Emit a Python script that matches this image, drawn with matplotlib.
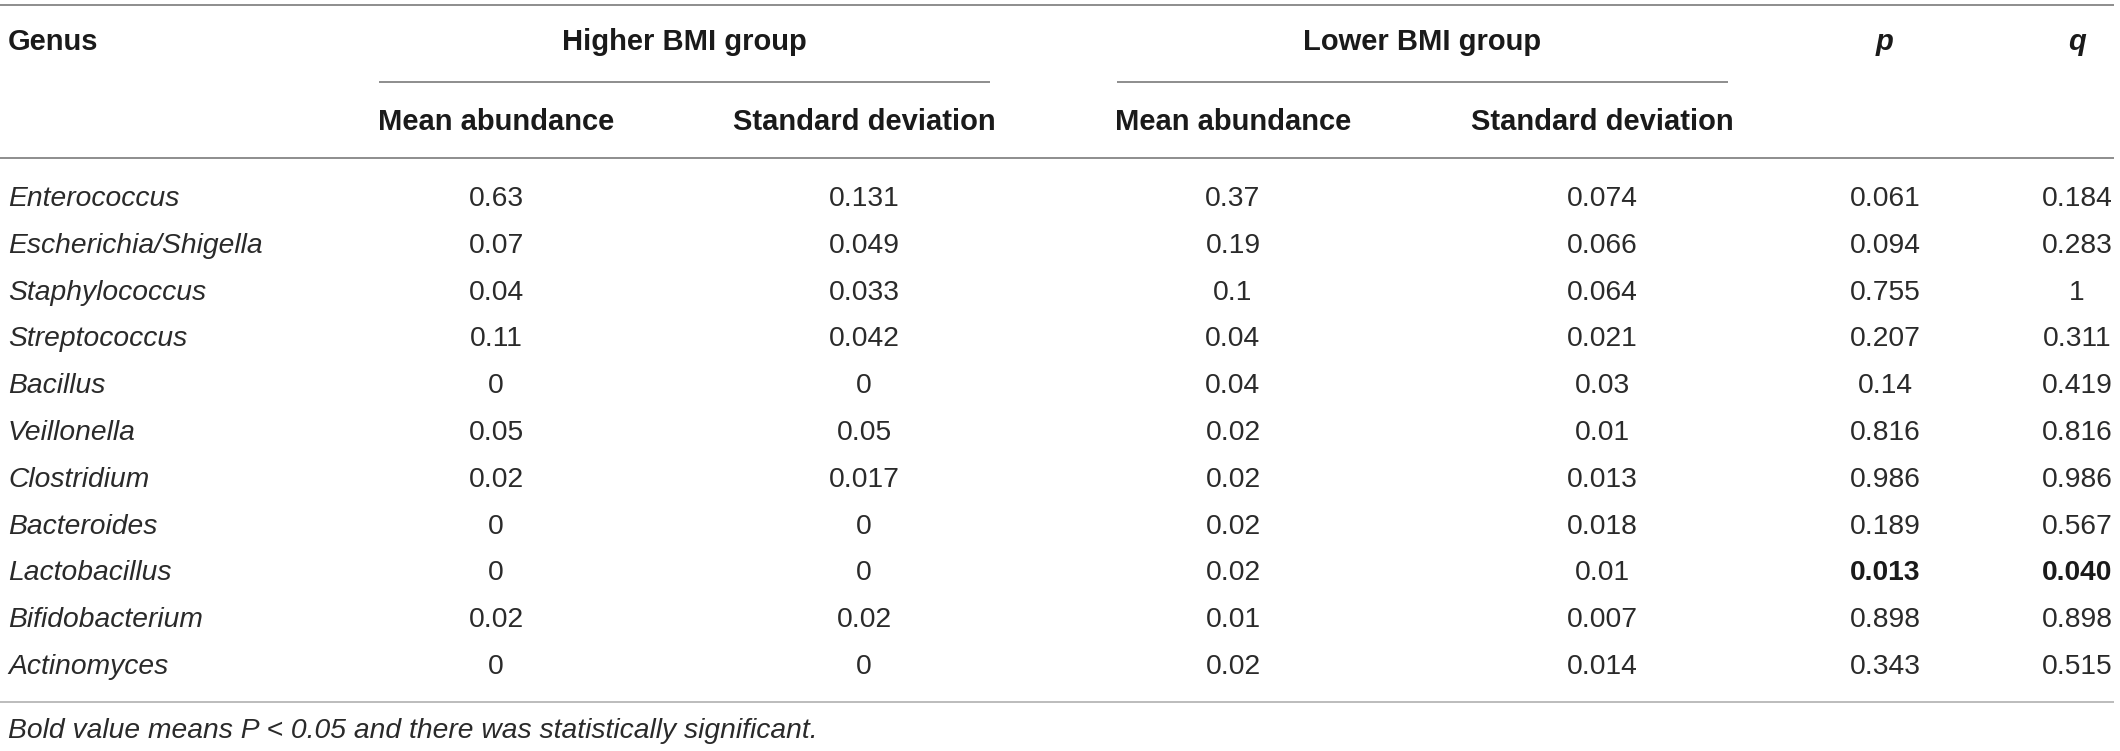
import matplotlib
matplotlib.use("Agg")
import matplotlib.pyplot as plt
from matplotlib.lines import Line2D

# table content
genus = ["Enterococcus", "Escherichia/Shigella", "Staphylococcus", "Streptococcus",
         "Bacillus", "Veillonella", "Clostridium", "Bacteroides", "Lactobacillus",
         "Bifidobacterium", "Actinomyces"]
higher_mean = ["0.63", "0.07", "0.04", "0.11", "0", "0.05", "0.02", "0", "0", "0.02", "0"]
higher_sd = ["0.131", "0.049", "0.033", "0.042", "0", "0.05", "0.017", "0", "0", "0.02", "0"]
lower_mean = ["0.37", "0.19", "0.1", "0.04", "0.04", "0.02", "0.02", "0.02", "0.02", "0.01", "0.02"]
lower_sd = ["0.074", "0.066", "0.064", "0.021", "0.03", "0.01", "0.013", "0.018", "0.01", "0.007", "0.014"]
p_vals = ["0.061", "0.094", "0.755", "0.207", "0.14", "0.816", "0.986", "0.189", "0.013", "0.898", "0.343"]
q_vals = ["0.184", "0.283", "1", "0.311", "0.419", "0.816", "0.986", "0.567", "0.040", "0.898", "0.515"]

group_labels = ["Higher BMI group", "Lower BMI group"]
sub_labels = ["Mean abundance", "Standard deviation"]
footnote = "Bold value means P < 0.05 and there was statistically significant."

W, H = 2120, 751
fig = plt.figure(figsize=(W / 100, H / 100), dpi=100)
ax = fig.add_axes([0, 0, 1, 1])
ax.set_xlim(0, W)
ax.set_ylim(H, 0)
ax.axis("off")

font = "Liberation Sans"
txt_col = "#2a2a2a"
hdr_col = "#1a1a1a"
fs_body = 20.3
fs_head = 21

x_genus = 8
x_cols = [496, 864, 1233, 1602, 1885, 2077]
group_spans = [(379, 990), (1117, 1728)]
y_top, y_group, y_sub = 42, 122, 122
row0, row_step = 196, 46.8

def hline(x0, x1, y, col="#7a7a7a", lw=1.2):
    ax.add_line(Line2D([x0, x1], [y, y], color=col, lw=lw, solid_capstyle="butt"))

# rules
hline(0, 2114, 5)
for x0, x1 in group_spans:
    hline(x0, x1, 82)
hline(0, 2114, 158)
hline(0, 2114, 702, col="#b0b0b0")

# header
ax.text(x_genus, y_top, "Genus", ha="left", va="center", fontsize=fs_head,
        fontweight="bold", family=font, color=hdr_col)
for (x0, x1), lab in zip(group_spans, group_labels):
    ax.text((x0 + x1) / 2, y_top, lab, ha="center", va="center", fontsize=fs_head,
            fontweight="bold", family=font, color=hdr_col)
for i, xc in enumerate(x_cols[:4]):
    ax.text(xc, y_sub, sub_labels[i % 2], ha="center", va="center", fontsize=fs_head,
            fontweight="bold", family=font, color=hdr_col)
ax.text(x_cols[4], y_top, "p", ha="center", va="center", fontsize=fs_head,
        fontweight="bold", style="italic", family=font, color=hdr_col)
ax.text(x_cols[5], y_top, "q", ha="center", va="center", fontsize=fs_head,
        fontweight="bold", style="italic", family=font, color=hdr_col)

# body
columns = [higher_mean, higher_sd, lower_mean, lower_sd, p_vals, q_vals]
for r, name in enumerate(genus):
    y = row0 + r * row_step
    ax.text(x_genus, y, name, ha="left", va="center_baseline", fontsize=fs_body,
            style="italic", family=font, color=txt_col)
    sig = float(p_vals[r]) < 0.05
    for c, (xc, col) in enumerate(zip(x_cols, columns)):
        bold = sig and c >= 4
        ax.text(xc, y, col[r], ha="center", va="center_baseline", fontsize=fs_body,
                family=font, color=hdr_col if bold else txt_col,
                fontweight="bold" if bold else "normal")

ax.text(x_genus, 728, footnote, ha="left", va="center_baseline", fontsize=fs_body,
        style="italic", family=font, color=txt_col)

fig.savefig("out.png", dpi=100)
